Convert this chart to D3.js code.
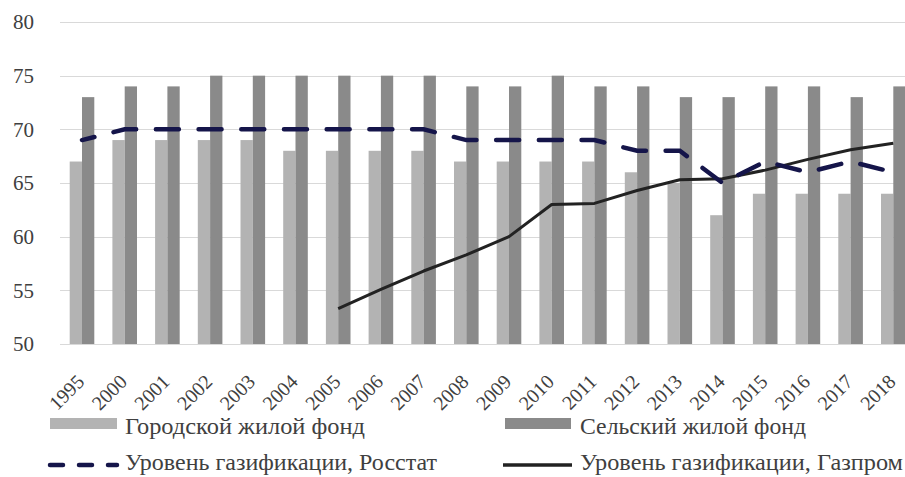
<!DOCTYPE html>
<html><head><meta charset="utf-8">
<script src="https://cdn.jsdelivr.net/npm/d3@7"></script>
<style>
html,body{margin:0;padding:0;background:#fff;overflow:hidden;}
text{font-family:"Liberation Serif","Times New Roman",serif;fill:#404040;}
</style></head>
<body>
<svg id="chart" width="905" height="477"></svg>
<script>
const categories = ['1995','2000','2001','2002','2003','2004','2005','2006','2007','2008','2009','2010','2011','2012','2013','2014','2015','2016','2017','2018'];
const urban = [67,69,69,69,69,68,68,68,68,67,67,67,67,66,65,62,64,64,64,64];
const rural = [73,74,74,75,75,75,75,75,75,74,74,75,74,74,73,73,74,74,73,74];
const rosstat = [69,70,70,70,70,70,70,70,70,69,69,69,69,68,68,65,67,66,67,66];
const gazprom = [null,null,null,null,null,null,53.3,55.1,56.8,58.3,60.0,63.0,63.1,64.3,65.3,65.4,66.2,67.2,68.1,68.7];
const yTicks = [50,55,60,65,70,75,80];
const seriesNames = ['Городской жилой фонд','Сельский жилой фонд','Уровень газификации, Росстат','Уровень газификации, Газпром'];

const svg = d3.select('#chart');
const x = d3.scaleBand().domain(categories).range([60.65, 914.65]).padding(0);
const y = d3.scaleLinear().domain([50, 80]).range([344, 22]);
const bw = x.bandwidth();
const xs = d3.scaleBand().domain(['u','r']).range([bw/2 - 12.3, bw/2 + 12.3]);

// gridlines
svg.append('g').selectAll('line').data(yTicks).join('line')
  .attr('x1', 60).attr('x2', 905)
  .attr('y1', d => Math.round(y(d)) + 0.5).attr('y2', d => Math.round(y(d)) + 0.5)
  .attr('stroke', '#d9d9d9').attr('stroke-width', 1);

// y labels
svg.append('g').selectAll('text').data(yTicks).join('text')
  .attr('x', 34).attr('y', d => y(d)).attr('dy', '0.35em')
  .attr('text-anchor', 'end').style('font-size', '21px').text(d => d);

// bars
const cols = {u: '#b3b3b3', r: '#8a8a8a'};
const bars = svg.append('g');
bars.selectAll('rect.u').data(categories).join('rect').attr('class','u')
  .attr('x', (d) => x(d) + xs('u')).attr('width', xs.bandwidth())
  .attr('y', (d,i) => y(urban[i])).attr('height', (d,i) => y(50) - y(urban[i]))
  .attr('fill', cols.u);
bars.selectAll('rect.r').data(categories).join('rect').attr('class','r')
  .attr('x', (d) => x(d) + xs('r')).attr('width', xs.bandwidth())
  .attr('y', (d,i) => y(rural[i])).attr('height', (d,i) => y(50) - y(rural[i]))
  .attr('fill', cols.r);

const cx = d => x(d) + bw/2;

// Gazprom line
const lineG = d3.line().defined(d => d.v != null).x(d => cx(d.c)).y(d => y(d.v));
svg.append('path')
  .datum(categories.map((c,i) => ({c, v: gazprom[i]})))
  .attr('d', lineG).attr('fill','none').attr('stroke','#222222')
  .attr('stroke-width', 3).attr('stroke-linejoin','round');

// Rosstat line
const lineR = d3.line().x(d => cx(d.c)).y(d => y(d.v));
svg.append('path')
  .datum(categories.map((c,i) => ({c, v: rosstat[i]})))
  .attr('d', lineR).attr('fill','none').attr('stroke','#15154a')
  .attr('stroke-width', 4.5).attr('stroke-linecap','round')
  .attr('stroke-dasharray', '23,19.7').attr('stroke-dashoffset', 10.2);

// x labels
svg.append('g').selectAll('text').data(categories).join('text')
  .attr('transform', d => `translate(${cx(d) + 3.5},383) rotate(-45)`)
  .attr('text-anchor', 'end').style('font-size', '20px').text(d => d);

// legend
const lg = svg.append('g');
lg.append('rect').attr('x', 50).attr('y', 418).attr('width', 67).attr('height', 11).attr('fill', cols.u);
lg.append('rect').attr('x', 505).attr('y', 418).attr('width', 66).attr('height', 11).attr('fill', cols.r);
lg.append('line').attr('x1', 50).attr('x2', 117).attr('y1', 465).attr('y2', 465)
  .attr('stroke', '#15154a').attr('stroke-width', 4.5).attr('stroke-linecap','round')
  .attr('stroke-dasharray', '13,16');
lg.append('line').attr('x1', 503).attr('x2', 572).attr('y1', 465).attr('y2', 465)
  .attr('stroke', '#222222').attr('stroke-width', 3.5);
const legTexts = [
  {t: seriesNames[0], x: 125, y: 434, w: 240},
  {t: seriesNames[1], x: 580, y: 434, w: 226},
  {t: seriesNames[2], x: 125, y: 470, w: 312},
  {t: seriesNames[3], x: 580, y: 470, w: 323}
];
lg.selectAll('text').data(legTexts).join('text')
  .attr('x', d => d.x).attr('y', d => d.y)
  .attr('textLength', d => d.w).attr('lengthAdjust', 'spacingAndGlyphs')
  .style('font-size', '23px').text(d => d.t);
</script>
</body></html>
